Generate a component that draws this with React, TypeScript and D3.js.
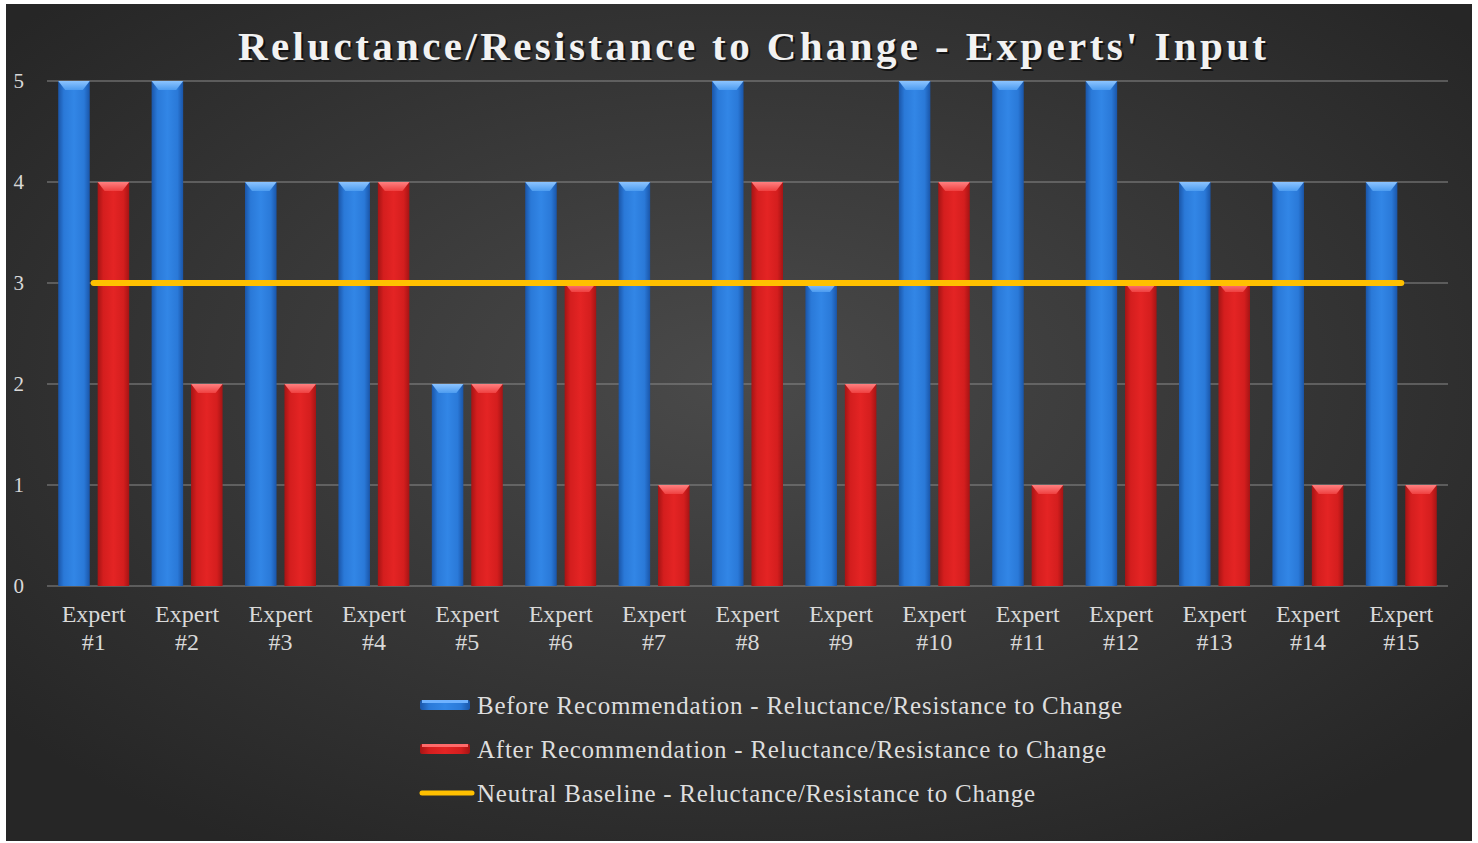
import React from "react";
import * as d3 from "d3";

const experts = ["#1","#2","#3","#4","#5","#6","#7","#8","#9","#10","#11","#12","#13","#14","#15"];
const beforeValues = [5,5,4,4,2,4,4,5,3,5,5,5,4,4,4];
const afterValues = [4,2,2,4,2,3,1,4,2,4,1,3,3,1,1];
const baselineValues = [3,3,3,3,3,3,3,3,3,3,3,3,3,3,3];
const yTicks = [0,1,2,3,4,5];
const seriesKeys = ["before","after"];
const legendLabels = [
  "Before Recommendation - Reluctance/Resistance to Change",
  "After Recommendation - Reluctance/Resistance to Change",
  "Neutral Baseline - Reluctance/Resistance to Change",
];
const title = "Reluctance/Resistance to Change - Experts' Input";

const W = 1478, H = 843;
const FONT = "Liberation Serif, DejaVu Serif, serif";

export default function App() {
  const x0 = d3.scaleBand<string>().domain(experts).range([47, 1448]).paddingInner(0.24).paddingOuter(0.12);
  const x1 = d3.scaleBand<string>().domain(seriesKeys).range([0, x0.bandwidth()]).paddingInner(0.2);
  const y = d3.scaleLinear().domain([0, 5]).range([586, 81]);
  const line = d3.line<number>().x((_, i) => (x0(experts[i]) as number) + x0.bandwidth() / 2).y((d) => y(d));

  const bar = (v: number, i: number, key: string) => {
    const x = (x0(experts[i]) as number) + (x1(key) as number);
    const w = x1.bandwidth();
    const top = y(v);
    const h = y(0) - top;
    const c = key === "before" ? "b" : "r";
    const bev = 9;
    return (
      <g key={key + i}>
        <rect x={x} y={top} width={w} height={h} fill={`url(#grad-${c})`} />
        <path d={`M${x},${top}L${x + w},${top}L${x + w - 7},${top + bev}L${x + 7},${top + bev}Z`} fill={`url(#bev-${c})`} />
      </g>
    );
  };

  return (
    <svg width={W} height={H} style={{ position: "absolute", left: 0, top: 0, display: "block" }}>
      <defs>
        <radialGradient id="bg" cx="50%" cy="45%" r="65%">
          <stop offset="0%" stopColor="#4a4a4a" />
          <stop offset="100%" stopColor="#262626" />
        </radialGradient>
        <linearGradient id="grad-b" x1="0" x2="1" y1="0" y2="0">
          <stop offset="0%" stopColor="#1a55a8" />
          <stop offset="18%" stopColor="#2a79d8" />
          <stop offset="50%" stopColor="#3286e6" />
          <stop offset="82%" stopColor="#2a79d8" />
          <stop offset="100%" stopColor="#1a55a8" />
        </linearGradient>
        <linearGradient id="grad-r" x1="0" x2="1" y1="0" y2="0">
          <stop offset="0%" stopColor="#a51414" />
          <stop offset="18%" stopColor="#d41e1e" />
          <stop offset="50%" stopColor="#e42424" />
          <stop offset="82%" stopColor="#d41e1e" />
          <stop offset="100%" stopColor="#a51414" />
        </linearGradient>
        <linearGradient id="bev-b" x1="0" x2="0" y1="0" y2="1">
          <stop offset="0%" stopColor="#8cc4ff" />
          <stop offset="100%" stopColor="#4d9cf0" />
        </linearGradient>
        <linearGradient id="bev-r" x1="0" x2="0" y1="0" y2="1">
          <stop offset="0%" stopColor="#ff8080" />
          <stop offset="100%" stopColor="#ef4040" />
        </linearGradient>
      </defs>
      <rect x={0} y={0} width={W} height={H} fill="#ffffff" />
      <rect x={6} y={4} width={1466} height={837} fill="url(#bg)" />

      <text x={752} y={60} textAnchor="middle" fontFamily={FONT} fontWeight="bold" fontSize={41}
        fill="#000" opacity={0.6} textLength={1028} lengthAdjust="spacing" transform="translate(2,2)">{title}</text>
      <text x={752} y={60} textAnchor="middle" fontFamily={FONT} fontWeight="bold" fontSize={41}
        fill="#f2f2f2" textLength={1028} lengthAdjust="spacing">{title}</text>

      {yTicks.map((t) => (
        <g key={t}>
          <line x1={47} x2={1448} y1={y(t)} y2={y(t)} stroke="#8a8a8a" strokeWidth={1} />
          <text x={24} y={y(t)} dy="0.35em" textAnchor="end" fontFamily={FONT} fontSize={21} fill="#d9d9d9">{t}</text>
        </g>
      ))}

      {beforeValues.map((v, i) => bar(v, i, "before"))}
      {afterValues.map((v, i) => bar(v, i, "after"))}

      <path d={line(baselineValues) as string} fill="none" stroke="#ffc000" strokeWidth={6} strokeLinecap="round" />

      {experts.map((e) => {
        const cx = (x0(e) as number) + x0.bandwidth() / 2;
        return (
          <text key={e} x={cx} textAnchor="middle" fontFamily={FONT} fontSize={24} fill="#d9d9d9">
            <tspan x={cx} y={622}>Expert</tspan>
            <tspan x={cx} y={650}>{e}</tspan>
          </text>
        );
      })}

      {legendLabels.map((l, i) => {
        const cy = 705 + i * 44;
        return (
          <g key={l}>
            {i < 2 ? (
              <g>
                <rect x={420} y={cy - 5} width={50} height={10} rx={2} fill={i === 0 ? "url(#grad-b)" : "url(#grad-r)"} />
                <rect x={422} y={cy - 5} width={46} height={3} fill={i === 0 ? "#6fb2ff" : "#ff6a6a"} />
              </g>
            ) : (
              <line x1={422} x2={472} y1={cy} y2={cy} stroke="#ffc000" strokeWidth={5} strokeLinecap="round" />
            )}
            <text x={477} y={cy} dy="0.35em" fontFamily={FONT} fontSize={25} letterSpacing={0.75} fill="#dedede">{l}</text>
          </g>
        );
      })}
    </svg>
  );
}
